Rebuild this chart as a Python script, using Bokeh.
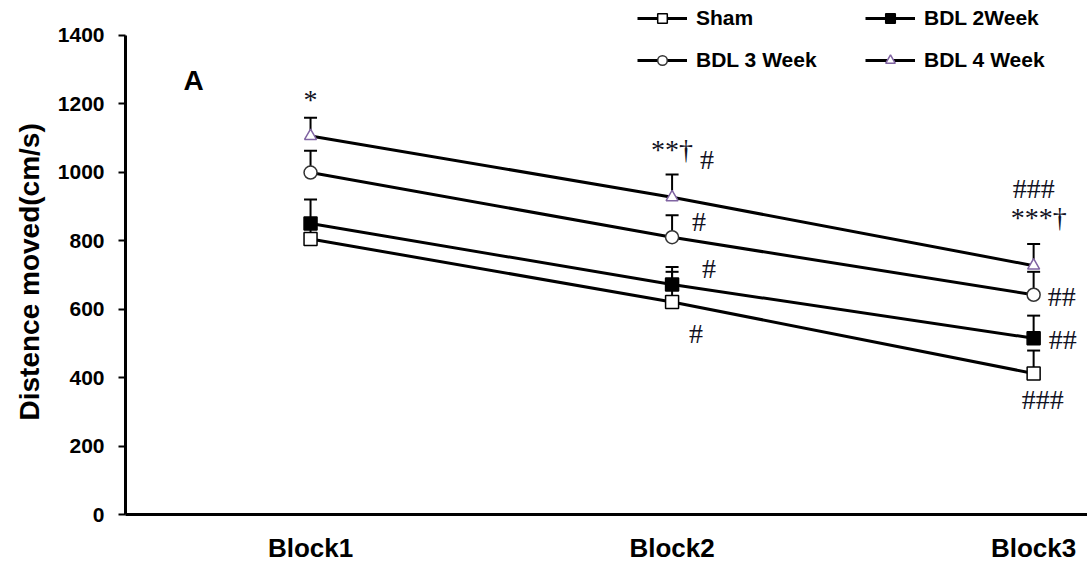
from bokeh.plotting import figure
from bokeh.models import (ColumnDataSource, Whisker, TeeHead, Legend, LegendItem,
                          Label, FixedTicker, Range1d, Title)
from bokeh.core.properties import value
from bokeh.embed import file_html
from bokeh.resources import INLINE

# ---- data ----
blocks = ["Block1", "Block2", "Block3"]
block_pos = [1, 2, 3]
series_names = ["Sham", "BDL 2Week", "BDL 3 Week", "BDL 4 Week"]
sham = [805, 621, 412]
sham_upper = [845, 723, 479]
bdl2 = [850, 672, 515]
bdl2_upper = [920, 709, 581]
bdl3 = [999, 810, 642]
bdl3_upper = [1063, 874, 709]
bdl4 = [1106, 927, 727]
bdl4_upper = [1159, 993, 790]
y_ticks = [0, 200, 400, 600, 800, 1000, 1200, 1400]

ann_text = ["*", "**\u2020", "#", "#", "#", "#", "###", "***\u2020", "##", "##", "###"]
ann_block = [1, 2, 2, 2, 2, 2, 3, 3, 3, 3, 3]
ann_y = [1211, 1066, 1037, 857, 720, 528, 953, 868, 636, 511, 337]
ann_dx = [0, 0, 35, 27, 37, 24, 0, 5, 28, 29, 9]

FONT = "Liberation Sans"

# frame spans the full height so the legend above the 1400 line is not clipped
Y_TOP = 1400 * 517 / 482

p = figure(width=1087, height=565, output_backend="svg", toolbar_location=None,
           x_range=Range1d(0.4882, 3.149), y_range=Range1d(0, Y_TOP),
           min_border_left=125, min_border_right=0, min_border_top=0,
           min_border_bottom=48)
p.outline_line_color = None
p.xgrid.visible = False
p.ygrid.visible = False
p.background_fill_color = "white"
p.border_fill_color = "white"

# axes
xa = p.xaxis[0]
xa.ticker = FixedTicker(ticks=block_pos)
xa.major_label_overrides = {bp: b for bp, b in zip(block_pos, blocks)}
xa.axis_line_width = 3
xa.axis_line_color = "black"
xa.major_tick_line_color = None
xa.minor_tick_line_color = None
xa.major_tick_out = 0
xa.major_tick_in = 0
xa.major_label_standoff = 18
xa.major_label_text_font = FONT
xa.major_label_text_font_style = "bold"
xa.major_label_text_font_size = "26px"
xa.major_label_text_color = "black"

ya = p.yaxis[0]
ya.ticker = FixedTicker(ticks=y_ticks)
ya.bounds = (0, 1400)
ya.axis_line_width = 3
ya.axis_line_color = "black"
ya.major_tick_line_width = 2
ya.major_tick_line_color = "black"
ya.major_tick_out = 7
ya.major_tick_in = 0
ya.minor_tick_line_color = None
ya.major_label_standoff = 14
ya.major_label_text_font = FONT
ya.major_label_text_font_style = "bold"
ya.major_label_text_font_size = "21px"
ya.major_label_text_color = "black"

# y axis title (side title so it can be centred on the 0-1400 span)
p.add_layout(Title(text="Distence moved(cm/s)", align="left", offset=94, standoff=20,
                   text_font=FONT, text_font_style="bold", text_font_size="28px",
                   text_color="black"), "left")

series = [
    ("Sham", sham, sham_upper, "square", "white", "black"),
    ("BDL 2Week", bdl2, bdl2_upper, "square", "black", "black"),
    ("BDL 3 Week", bdl3, bdl3_upper, "circle", "white", "#333333"),
    ("BDL 4 Week", bdl4, bdl4_upper, "triangle", "white", "#8064A2"),
]

items = {}
for name, vals, upp, marker, fill, edge in series:
    src = ColumnDataSource(dict(x=block_pos, y=vals, upper=upp))
    w = Whisker(base="x", upper="upper", lower="y", source=src, dimension="height",
                line_width=2, line_color="black",
                upper_head=TeeHead(size=13, line_width=2, line_color="black"),
                lower_head=None, level="underlay")
    p.add_layout(w)
    lr = p.line("x", "y", source=src, line_color="black", line_width=3)
    sr = p.scatter("x", "y", source=src, marker=marker, size=13 if marker != "triangle" else 12,
                   fill_color=fill, line_color=edge, line_width=1.5)
    items[name] = LegendItem(label=name, renderers=[lr, sr])

legend = Legend(items=[items["Sham"], items["BDL 3 Week"], items["BDL 2Week"], items["BDL 4 Week"]],
                orientation="vertical", nrows=2,
                location=(512, 442), glyph_width=50, glyph_height=24, label_height=24,
                label_standoff=9, label_width=151, spacing=18, padding=0, margin=0,
                border_line_color=None, background_fill_alpha=0,
                label_text_font=FONT, label_text_font_style="bold",
                label_text_font_size="21px", label_text_color="black")
p.add_layout(legend, "center")

# significance marks
ann_src = ColumnDataSource(dict(x=ann_block, y=ann_y, t=ann_text, dx=ann_dx))
p.text("x", "y", text="t", x_offset="dx", source=ann_src, text_font=value("Liberation Serif"),
       text_font_size="28px", text_align="center", text_baseline="alphabetic",
       text_color="#111122")

# panel letter
p.add_layout(Label(x=58, y=434, x_units="screen", y_units="screen", text="A",
                   text_font=FONT, text_font_style="bold", text_font_size="28px",
                   text_color="black", text_baseline="alphabetic"))

open("out.html", "w").write(file_html(p, INLINE))
